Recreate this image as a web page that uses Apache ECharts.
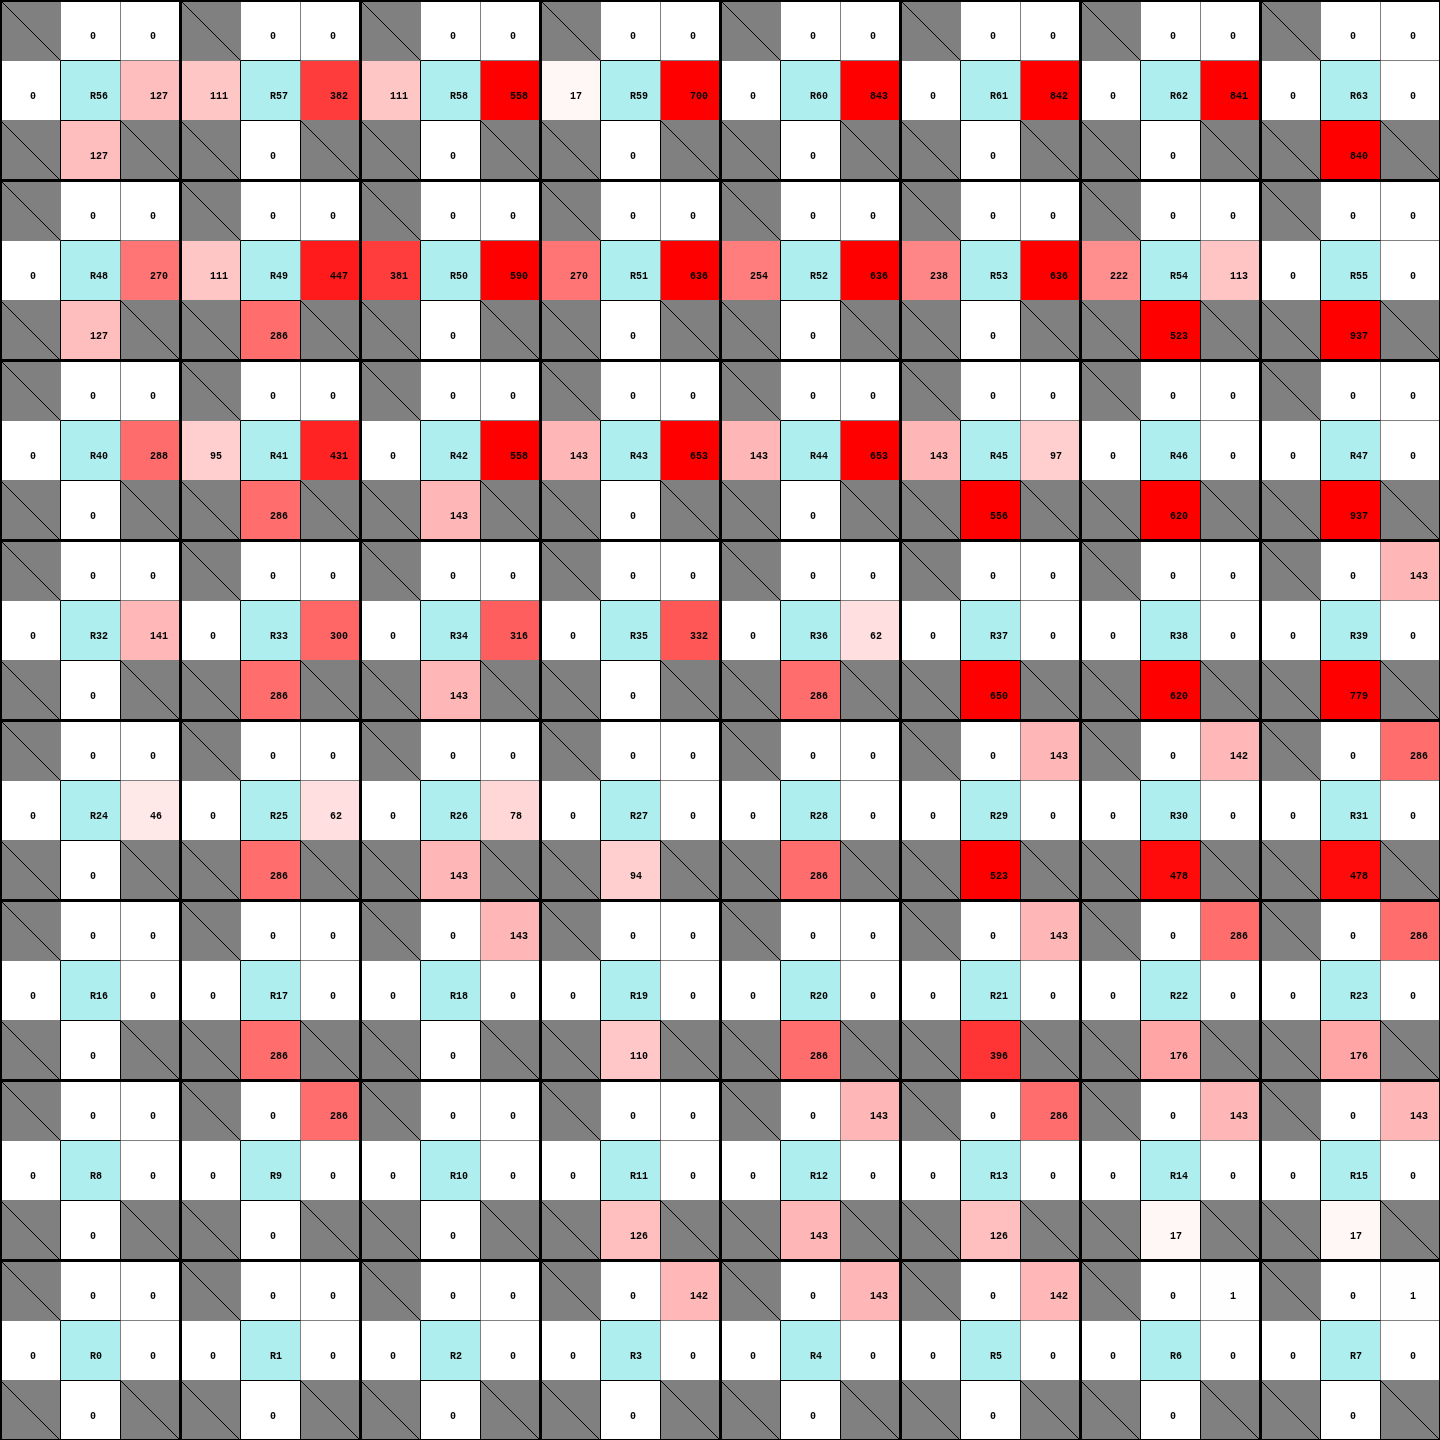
<!DOCTYPE html>
<html><head><meta charset="utf-8">
<script src="https://cdn.jsdelivr.net/npm/echarts@6/dist/echarts.min.js"></script>
<style>html,body{margin:0;padding:0;background:#fff}#c{width:1440px;height:1440px}</style>
</head><body><div id="c"></div><script>
// Room labels R0..R63 (R0 bottom-left, R63 top-right), 8 rooms per row
const rooms = Array.from({length: 64}, (_, i) => 'R' + i);
// Values per room, indexed by room number
const northVals = new Array(64).fill(0);
const northEastVals = [
  0,0,0,142,143,142,1,1,
  0,286,0,0,143,286,143,143,
  0,0,143,0,0,143,286,286,
  0,0,0,0,0,143,142,286,
  0,0,0,0,0,0,0,143,
  0,0,0,0,0,0,0,0,
  0,0,0,0,0,0,0,0,
  0,0,0,0,0,0,0,0
];
const westVals = [
  0,0,0,0,0,0,0,0,
  0,0,0,0,0,0,0,0,
  0,0,0,0,0,0,0,0,
  0,0,0,0,0,0,0,0,
  0,0,0,0,0,0,0,0,
  0,95,0,143,143,143,0,0,
  0,111,381,270,254,238,222,0,
  0,111,111,17,0,0,0,0
];
const eastVals = [
  0,0,0,0,0,0,0,0,
  0,0,0,0,0,0,0,0,
  0,0,0,0,0,0,0,0,
  46,62,78,0,0,0,0,0,
  141,300,316,332,62,0,0,0,
  288,431,558,653,653,97,0,0,
  270,447,590,636,636,636,113,0,
  127,382,558,700,843,842,841,0
];
const southVals = [
  0,0,0,0,0,0,0,0,
  0,0,0,126,143,126,17,17,
  0,286,0,110,286,396,176,176,
  0,286,143,94,286,523,478,478,
  0,286,143,0,286,650,620,779,
  0,286,143,0,0,556,620,937,
  127,286,0,0,0,0,523,937,
  127,0,0,0,0,0,0,840
];
const gridCats = Array.from({length: 24}, (_, i) => String(i));

const valueData = [], roomData = [], wallData = [], blockData = [];
for (let r = 0; r < 64; r++) {
  const bx = r % 8, by = Math.floor(r / 8);
  const c0 = 3 * bx, r0 = 3 * by;
  valueData.push([c0 + 1, r0 + 2, northVals[r], 0]);
  valueData.push([c0 + 2, r0 + 2, northEastVals[r], 1]);
  valueData.push([c0, r0 + 1, westVals[r], 2]);
  valueData.push([c0 + 2, r0 + 1, eastVals[r], 3]);
  valueData.push([c0 + 1, r0, southVals[r], 4]);
  roomData.push([c0 + 1, r0 + 1, r]);
  wallData.push([c0, r0 + 2]);
  wallData.push([c0, r0]);
  wallData.push([c0 + 2, r0]);
  blockData.push([c0, r0]);
}

const FONT = 'bold 10px "Liberation Mono"';
function cellRect(api, col, row) {
  const p = api.coord([col, row]);
  const s = api.size([1, 1]);
  return {x: Math.round(p[0] - s[0] / 2), y: Math.round(p[1] - s[1] / 2), w: Math.round(s[0]), h: Math.round(s[1])};
}
function label(c, txt) {
  return {type: 'text', x: c.x + c.w / 2, y: c.y + c.h / 2 + 6.5, z2: 4,
    style: {text: txt, font: FONT, fill: '#000', align: 'left', verticalAlign: 'middle'}};
}

const chart = echarts.init(document.getElementById('c'));
chart.setOption({
  animation: false,
  backgroundColor: '#ffffff',
  grid: {left: 0, right: 0, top: 0, bottom: 0},
  xAxis: {type: 'category', data: gridCats, show: false},
  yAxis: {type: 'category', data: gridCats, show: false},
  visualMap: {type: 'continuous', min: 0, max: 500, show: false, seriesIndex: 1, dimension: 2,
    inRange: {color: ['#ffffff', '#ff0000']}},
  series: [
    {
      type: 'custom', name: 'walls', silent: true, z: 2,
      data: wallData,
      renderItem(params, api) {
        const c = cellRect(api, api.value(0), api.value(1));
        return {type: 'group', children: [
          {type: 'rect', z2: 0, shape: {x: c.x, y: c.y, width: c.w, height: c.h}, style: {fill: '#808080'}},
          {type: 'line', z2: 3, shape: {x1: c.x, y1: c.y, x2: c.x + c.w, y2: c.y + c.h}, style: {stroke: '#000', lineWidth: 1}}
        ]};
      }
    },
    {
      type: 'custom', name: 'values', silent: true, z: 2,
      data: valueData,
      renderItem(params, api) {
        const c = cellRect(api, api.value(0), api.value(1));
        const kind = api.value(3);
        return {type: 'group', children: [
          {type: 'rect', z2: 0, shape: {x: c.x, y: c.y, width: c.w, height: c.h}, style: {fill: api.visual('color')}},
          {type: 'rect', z2: kind === 4 ? 2 : 1, shape: {x: c.x + 0.5, y: c.y + 0.5, width: c.w, height: c.h},
            style: {fill: null, stroke: kind === 4 ? '#000' : '#808080', lineWidth: 1}},
          label(c, String(api.value(2)))
        ]};
      }
    },
    {
      type: 'custom', name: 'rooms', silent: true, z: 2,
      data: roomData,
      renderItem(params, api) {
        const c = cellRect(api, api.value(0), api.value(1));
        return {type: 'group', children: [
          {type: 'rect', z2: 0, shape: {x: c.x, y: c.y, width: c.w, height: c.h}, style: {fill: '#afeeee'}},
          {type: 'polyline', z2: 2, shape: {points: [[c.x + c.w + 0.5, c.y + 0.5], [c.x + 0.5, c.y + 0.5], [c.x + 0.5, c.y + c.h + 0.5], [c.x + c.w + 0.5, c.y + c.h + 0.5]]},
            style: {fill: null, stroke: '#000', lineWidth: 1}},
          label(c, rooms[api.value(2)])
        ]};
      }
    },
    {
      type: 'custom', name: 'blocks', silent: true, z: 3,
      data: blockData,
      renderItem(params, api) {
        const c0 = api.value(0), r0 = api.value(1);
        const tl = cellRect(api, c0, r0 + 2);
        const br = cellRect(api, c0 + 2, r0);
        return {type: 'rect', z2: 5,
          shape: {x: tl.x + 0.5, y: tl.y + 0.5, width: br.x + br.w - tl.x, height: br.y + br.h - tl.y},
          style: {fill: null, stroke: '#000', lineWidth: 3}};
      }
    }
  ]
});
</script></body></html>
